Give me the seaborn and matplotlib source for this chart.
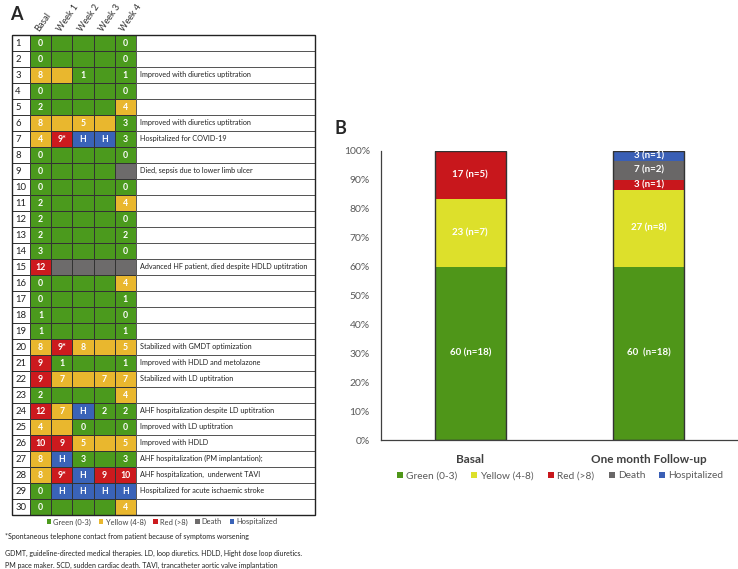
import numpy as np
import pandas as pd
import matplotlib
matplotlib.use("Agg")
import matplotlib.pyplot as plt
import seaborn as sns
from matplotlib.colors import ListedColormap
from matplotlib.patches import Rectangle, Patch

# ---------------- data: panel A ----------------
weeks = ["Basal", "Week 1", "Week 2", "Week 3", "Week 4"]
patients = list(range(1, 31))
# status per patient for Basal..Week 4: G=green, Y=yellow, R=red, D=death, H=hospitalized
status = ["GGGGG", "GGGGG", "YYGGG", "GGGGG", "GGGGY", "YYYYG", "YRHHG", "GGGGG",
          "GGGGD", "GGGGG", "GGGGY", "GGGGG", "GGGGG", "GGGGG", "RDDDD", "GGGGY",
          "GGGGG", "GGGGG", "GGGGG", "YRYYY", "RGGGG", "RYYYY", "GGGGY", "RYHGG",
          "YYGGG", "RRYYY", "YHGGG", "YRHRR", "GHHHH", "GGGGY"]
basal = ["0", "0", "8", "0", "2", "8", "4", "0", "0", "0", "2", "2", "2", "3", "12",
         "0", "0", "1", "1", "8", "9", "9", "2", "12", "4", "10", "8", "8", "0", "0"]
week1 = ["", "", "", "", "", "", "9*", "", "", "", "", "", "", "", "",
         "", "", "", "", "9*", "1", "7", "", "7", "", "9", "H", "9*", "H", ""]
week2 = ["", "", "1", "", "", "5", "H", "", "", "", "", "", "", "", "",
         "", "", "", "", "8", "", "", "", "H", "0", "5", "3", "H", "H", ""]
week3 = ["", "", "", "", "", "", "H", "", "", "", "", "", "", "", "",
         "", "", "", "", "", "", "7", "", "2", "", "", "", "9", "H", ""]
week4 = ["0", "0", "1", "0", "4", "3", "3", "0", "", "0", "4", "0", "2", "0", "",
         "4", "1", "0", "1", "5", "1", "7", "4", "2", "0", "5", "3", "10", "H", "4"]
comments = ["", "", "Improved with diuretics uptitration", "", "",
            "Improved with diuretics uptitration", "Hospitalized for COVID-19", "",
            "Died, sepsis due to lower limb ulcer", "", "", "", "", "",
            "Advanced HF patient, died despite HDLD uptitration", "", "", "", "",
            "Stabilized with GMDT optimization", "Improved with HDLD and metolazone",
            "Stabilized with LD uptitration", "", "AHF hospitalization despite LD uptitration",
            "Improved with LD uptitration", "Improved with HDLD",
            "AHF hospitalization (PM implantation);", "AHF hospitalization,  underwent TAVI",
            "Hospitalized for acute ischaemic stroke", ""]

# ---------------- data: panel B ----------------
groups = ["Basal", "One month Follow-up"]
categories = ["Green (0-3)", "Yellow (4-8)", "Red (>8)", "Death", "Hospitalized"]
basal_n = [18, 7, 5, 0, 0]
followup_n = [18, 8, 1, 2, 1]
basal_labels = ["60 (n=18)", "23 (n=7)", "17 (n=5)", "", ""]
followup_labels = ["60  (n=18)", "27 (n=8)", "3 (n=1)", "7 (n=2)", "3 (n=1)"]
total_patients = 30

# ---------------- style ----------------
table_colors = ["#4b9a1d", "#e9b72e", "#cc1a1e", "#6d6b6b", "#3a63b8"]
bar_colors = ["#4f9619", "#dde02b", "#c8171c", "#696767", "#3a5fb5"]
sns.set_theme(style="white")
plt.rcParams["font.family"] = ["Lato", "DejaVu Sans"]

W, H = 738, 569
fig = plt.figure(figsize=(W / 100, H / 100), dpi=100)


def fx(px):
    return px / W


def fy(py):
    return 1 - py / H


# ---------------- panel A: heatmap table ----------------
code_map = {"G": 0, "Y": 1, "R": 2, "D": 3, "H": 4}
codes = np.array([[code_map[c] for c in s] for s in status])
annot = np.array([basal, week1, week2, week3, week4]).T
df_codes = pd.DataFrame(codes, index=patients, columns=weeks)

axA = fig.add_axes([fx(30), fy(515), fx(136) - fx(30), fy(35) - fy(515)])
sns.heatmap(df_codes, ax=axA, cmap=ListedColormap(table_colors), vmin=-0.5, vmax=4.5,
            cbar=False, annot=annot, fmt="", linewidths=0.7, linecolor="#333333",
            annot_kws={"color": "white", "fontsize": 6.3, "fontweight": "bold"})
axA.set_yticks([])
axA.set_ylabel("")
axA.set_xlabel("")
axA.xaxis.tick_top()
axA.set_xticks(np.arange(len(weeks)) + 0.35)
axA.set_xticklabels(weeks, rotation=55, ha="left", va="center", rotation_mode="anchor",
                    fontsize=6.5, color="#333333")
axA.tick_params(axis="x", length=0, pad=3)

num_w = 18 / 21.2
com_w = 179 / 21.2
for i, (p, c) in enumerate(zip(patients, comments)):
    axA.add_patch(Rectangle((-num_w, i), num_w, 1, facecolor="white", edgecolor="#333333",
                            linewidth=0.7, clip_on=False))
    axA.text(-num_w + 0.15, i + 0.55, str(p), fontsize=6.8, ha="left", va="center",
             color="#222222", clip_on=False)
    axA.add_patch(Rectangle((5, i), com_w, 1, facecolor="white", edgecolor="#555555",
                            linewidth=0.7, clip_on=False))
    if c:
        axA.text(5.2, i + 0.45, c, fontsize=5.2, ha="left", va="center",
                 color="#222222", clip_on=False)
axA.add_patch(Rectangle((-num_w, 0), num_w + 5 + com_w, 30, facecolor="none",
                        edgecolor="#222222", linewidth=1.0, clip_on=False))

fig.text(fx(10), fy(14), "A", fontsize=13, fontweight="bold", ha="left", va="center")

handlesA = [Patch(facecolor=c, edgecolor="none") for c in table_colors]
fig.legend(handlesA, ["Green (0-3)", "Yellow (4-8)", "Red (>8)", "Death", "Hospitalized"],
           loc="center", bbox_to_anchor=(fx(162), fy(522)), ncol=5, frameon=False,
           fontsize=5.4, handlelength=0.6, handleheight=0.6, handletextpad=0.3,
           columnspacing=1.0, labelcolor="#444444")

fig.text(fx(5), fy(536), "*Spontaneous telephone contact from patient because of symptoms worsening",
         fontsize=5.0, ha="left", va="center", color="#222222")
fig.text(fx(5), fy(553), "GDMT, guideline-directed medical therapies. LD, loop diuretics. HDLD, Hight dose loop diuretics.",
         fontsize=5.0, ha="left", va="center", color="#222222")
fig.text(fx(5), fy(565), "PM pace maker. SCD, sudden cardiac death. TAVI, trancatheter aortic valve implantation",
         fontsize=5.0, ha="left", va="center", color="#222222")

# ---------------- panel B: stacked bars ----------------
rows = []
for g, ns, labs in [(groups[0], basal_n, basal_labels), (groups[1], followup_n, followup_labels)]:
    cum = 0.0
    for cat, n, lab in zip(categories, ns, labs):
        pct = n / total_patients * 100
        cum += pct
        rows.append({"group": g, "category": cat, "pct": pct, "cum": cum, "label": lab})
dfB = pd.DataFrame(rows)

axB = fig.add_axes([fx(381), fy(440), fx(738) - fx(381), fy(151) - fy(440)])
for cat, col in reversed(list(zip(categories, bar_colors))):
    sub = dfB[dfB["category"] == cat]
    sns.barplot(data=sub, x="group", y="cum", order=groups, color=col, width=0.4,
                linewidth=0, saturation=1, ax=axB)
tot = dfB.groupby("group", sort=False)["cum"].max().reset_index()
sns.barplot(data=tot, x="group", y="cum", order=groups, fill=False, color="#333333",
            width=0.4, linewidth=1.0, ax=axB)

for _, r in dfB.iterrows():
    if r["label"]:
        xi = groups.index(r["group"])
        axB.text(xi, r["cum"] - r["pct"] / 2, r["label"], ha="center", va="center",
                 color="white", fontsize=7, fontweight="bold")

axB.set_ylim(0, 100)
axB.set_xlim(-0.5, 1.5)
axB.set_yticks(np.arange(0, 101, 10))
axB.set_yticklabels([f"{v}%" for v in range(0, 101, 10)], fontsize=7.5, color="#595959")
axB.set_xticklabels(groups, fontsize=8.5, fontweight="bold", color="#404040")
axB.tick_params(axis="y", length=0, pad=8)
axB.tick_params(axis="x", length=0, pad=10)
axB.set_xlabel("")
axB.set_ylabel("")
for s in ["top", "right"]:
    axB.spines[s].set_visible(False)
for s in ["left", "bottom"]:
    axB.spines[s].set_color("#404040")
    axB.spines[s].set_linewidth(0.9)

fig.text(fx(340), fy(129), "B", fontsize=13, fontweight="bold", ha="center", va="center")

handlesB = [Patch(facecolor=c, edgecolor="none") for c in bar_colors]
fig.legend(handlesB, categories, loc="center", bbox_to_anchor=(fx(560), fy(476)), ncol=5,
           frameon=False, fontsize=7.3, handlelength=0.6, handleheight=0.6,
           handletextpad=0.3, columnspacing=1.4, labelcolor="#595959")

fig.savefig("out.png", dpi=100)
